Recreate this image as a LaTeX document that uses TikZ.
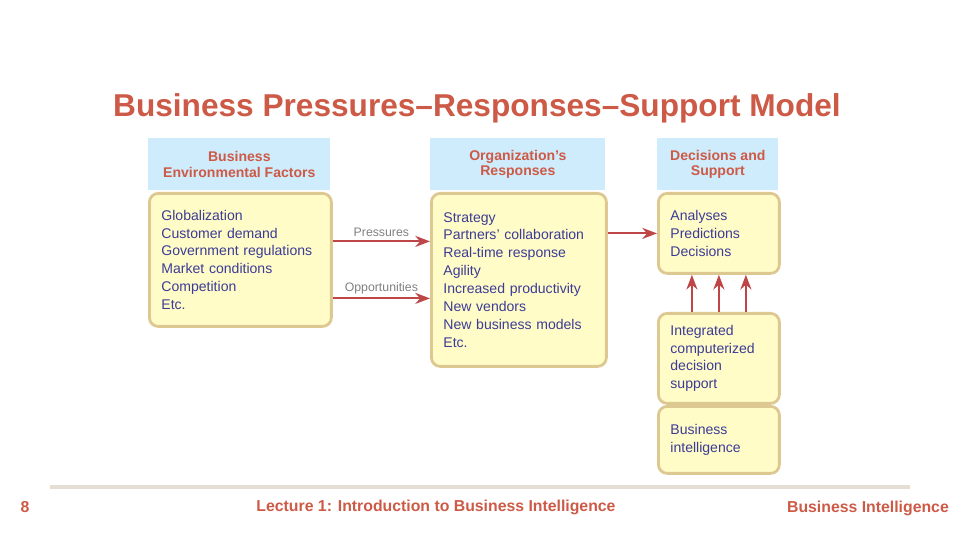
\documentclass[tikz,border=0pt]{standalone}
\usepackage{fontspec}
\setmainfont{Liberation Sans}
\usetikzlibrary{arrows.meta}

\definecolor{titlered}{RGB}{205,90,70}
\definecolor{hdrblue}{RGB}{206,236,252}
\definecolor{boxyellow}{RGB}{255,252,200}
\definecolor{boxedge}{RGB}{222,200,145}
\definecolor{bodyblue}{RGB}{60,60,150}
\definecolor{arrred}{RGB}{190,70,70}
\definecolor{footgray}{RGB}{228,222,212}

\begin{document}
\begin{tikzpicture}[
    x=0.02cm, y=-0.02cm,
    >=Stealth,
    font=\fontsize{8}{10.2}\selectfont,
    arr/.style={->, line width=1.2pt, draw=arrred},
    hdr/.style={fill=hdrblue, anchor=north west, align=center, inner sep=0pt,
        text=titlered, font=\bfseries\fontsize{8}{9}\selectfont},
    box/.style={draw=boxedge, fill=boxyellow, line width=1.6pt, rounded corners=5pt,
        anchor=north west, align=left, text=bodyblue, inner xsep=0.24cm},
    lbl/.style={font=\fontsize{7}{8}\selectfont, text=gray, above, inner sep=2pt},
    foot/.style={text=titlered, font=\bfseries\fontsize{9}{10}\selectfont}
]
\useasboundingbox (0,0) rectangle (960,540);

% =========================================================
% TITLE
% =========================================================
\node[text=titlered, font=\bfseries\fontsize{18}{20}\selectfont] (title) at (477,108)
{Business Pressures--Responses--Support Model};

% ------------------- HEADERS -------------------
\node[hdr, minimum width=3.64cm, minimum height=1.04cm] (envh) at (148,138)
{Business\\Environmental Factors};
\node[hdr, minimum width=3.5cm, minimum height=1.04cm] (resph) at (430,138)
{Organization's\\Responses};
\node[hdr, minimum width=2.42cm, minimum height=1.04cm] (dech) at (657,138)
{Decisions and\\Support};

% ------------------- BOXES -------------------
\node[box, minimum width=3.64cm, minimum height=2.66cm, text width=3.16cm] (env) at (148,192)
{Globalization\\Customer demand\\Government regulations\\Market conditions\\Competition\\Etc.};

\node[box, minimum width=3.5cm, minimum height=3.46cm, text width=3.02cm] (resp) at (430,192)
{Strategy\\Partners' collaboration\\Real-time response\\Agility\\Increased productivity\\New vendors\\New business models\\Etc.};

\node[box, minimum width=2.42cm, minimum height=1.6cm, text width=1.94cm] (dec) at (657,192)
{Analyses\\Predictions\\Decisions};

\node[box, minimum width=2.42cm, minimum height=1.8cm, text width=1.94cm] (dss) at (657,312)
{Integrated\\computerized\\decision\\support};

\node[box, minimum width=2.42cm, minimum height=1.34cm, text width=1.94cm] (bi) at (657,405)
{Business\\intelligence};

% ------------------- ARROWS -------------------
\coordinate (pin) at ([yshift=0.37cm]env.east);
\coordinate (oin) at ([yshift=-0.77cm]env.east);
\draw[arr] (pin) -- node[lbl] {Pressures} (pin -| resp.west);
\draw[arr] (oin) -- node[lbl] {Opportunities} (oin -| resp.west);
\draw[arr] (resp.east |- dec.west) -- (dec.west);

\foreach \dx in {-0.54,0,0.54}
    \draw[arr] ([xshift=\dx cm]dss.north) -- ([xshift=\dx cm]dec.south);

% =========================================================
% FOOTER
% =========================================================
\draw[footgray, line width=1.8pt] (50,487) -- (910,487);
\node[foot] (pg) at (25,507) {8};
\node[foot] (lect) at (436,507) {Lecture 1: Introduction to Business Intelligence};
\node[foot, anchor=east] (course) at (955,508) {Business Intelligence};

\end{tikzpicture}
\end{document}
